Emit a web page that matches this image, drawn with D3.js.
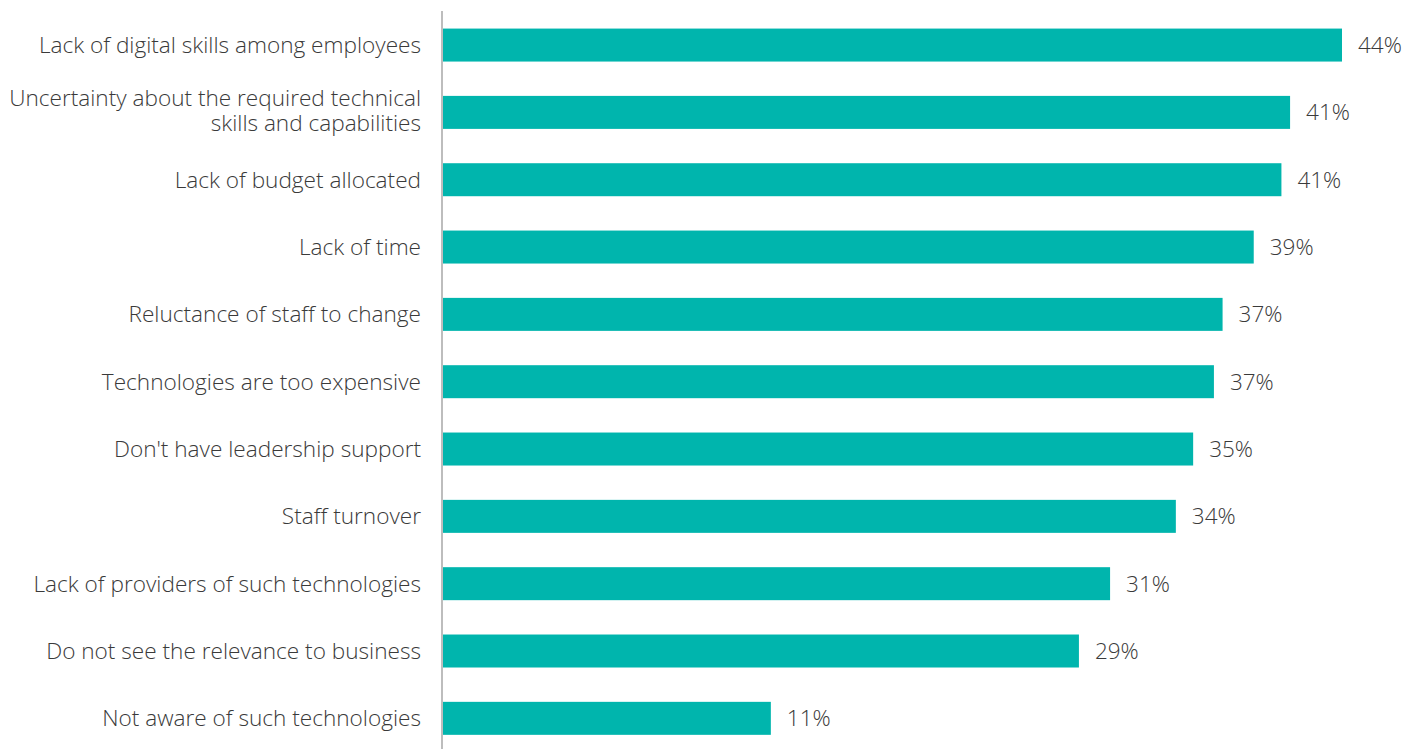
<!DOCTYPE html>
<html>
<head>
<meta charset="utf-8">
<script src="https://cdn.jsdelivr.net/npm/d3@7"></script>
<style>
  html, body { margin: 0; padding: 0; background: #fff; }
  svg { display: block; }
  text { font-family: "Open Sans", "Noto Sans", sans-serif; font-weight: 300; fill: #3a3a3a; }
</style>
</head>
<body>
<svg id="chart" width="1418" height="749"></svg>
<script>
// Barriers to adopting digital technologies (share of respondents, %)
const categories = [
  ["Lack of digital skills among employees"],
  ["Uncertainty about the required technical", "skills and capabilities"],
  ["Lack of budget allocated"],
  ["Lack of time"],
  ["Reluctance of staff to change"],
  ["Technologies are too expensive"],
  ["Don't have leadership support"],
  ["Staff turnover"],
  ["Lack of providers of such technologies"],
  ["Do not see the relevance to business"],
  ["Not aware of such technologies"]
];
const values = [44.0, 41.0, 40.5, 38.9, 37.1, 36.6, 35.4, 34.4, 30.6, 28.8, 11.0];
const xDomain = [-8, 44];

const svg = d3.select("#chart");
const axisX = 442;

const x = d3.scaleLinear().domain(xDomain).range([axisX, 1342]);
const y = d3.scaleBand()
  .domain(d3.range(categories.length))
  .range([11.4, 752])
  .paddingInner(0.51)
  .paddingOuter(0.255);

const fmt = v => d3.format(".0f")(v) + "%";

// bars
svg.append("g").selectAll("rect")
  .data(values)
  .join("rect")
  .attr("x", x(xDomain[0]) + 1)
  .attr("y", (d, i) => y(i))
  .attr("width", d => x(d) - x(xDomain[0]) - 1)
  .attr("height", y.bandwidth())
  .attr("fill", "#00b5ad");

// value labels
svg.append("g").selectAll("text")
  .data(values)
  .join("text")
  .attr("x", d => x(d) + 16)
  .attr("y", (d, i) => y(i) + y.bandwidth() / 2)
  .attr("dy", "0.35em")
  .attr("font-size", 22.5)
  .text(fmt);

// category labels (one text element per line)
const lh = 25;
const labelRows = [];
categories.forEach((lines, i) => {
  const mid = y(i) + y.bandwidth() / 2;
  const off = lines.length > 1 ? -(lines.length - 1) * lh / 2 - 2 : 0;
  lines.forEach((s, k) => labelRows.push({ s, cy: mid + off + k * lh }));
});
svg.append("g").selectAll("text")
  .data(labelRows)
  .join("text")
  .attr("text-anchor", "end")
  .attr("font-size", 22.6)
  .attr("x", 421)
  .attr("y", d => d.cy)
  .attr("dy", "0.35em")
  .text(d => d.s);

// vertical axis line
svg.append("line")
  .attr("x1", axisX).attr("x2", axisX)
  .attr("y1", 11).attr("y2", 749)
  .attr("stroke", "#bdbdbd")
  .attr("stroke-width", 2);
</script>
</body>
</html>
